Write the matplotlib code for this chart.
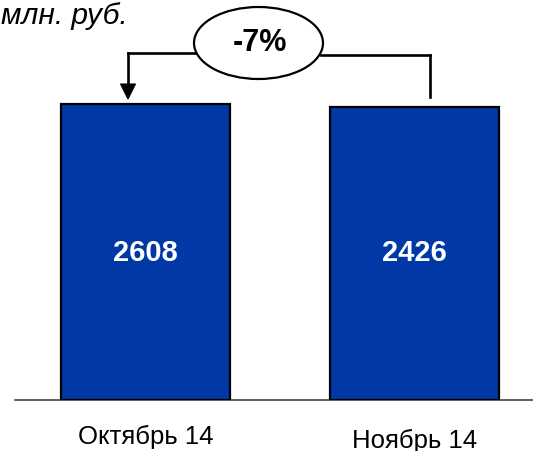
import matplotlib
matplotlib.use("Agg")
import matplotlib.pyplot as plt
from matplotlib.patches import Ellipse, Polygon

plt.rcParams['font.family'] = ['Liberation Sans', 'DejaVu Sans']

categories = ["Октябрь 14", "Ноябрь 14"]
values = [2608, 2426]
value_labels = ["2608", "2426"]
change_label = "-7%"
unit_label = "млн. руб."
AXIS_MIN = -15300  # bars start from a non-zero axis minimum (as in the reference)

W, H = 533, 452
fig = plt.figure(figsize=(W / 100, H / 100), dpi=100)

# main axes: bottom edge at the baseline (y=401 px)
base_px = 401
ax = fig.add_axes([0, (H - base_px) / H, 1, base_px / H])
ax.axis('off')
px_per_unit_x = 269.0
c0 = 145.5
ax.set_xlim(-c0 / px_per_unit_x, (W - c0) / px_per_unit_x)
top1_px = 105
ymax = AXIS_MIN + (values[0] - AXIS_MIN) * base_px / (base_px - top1_px)
ax.set_ylim(AXIS_MIN, ymax)

xs = list(range(len(values)))
heights = [v - AXIS_MIN for v in values]
ax.bar(xs, heights, bottom=AXIS_MIN, width=0.625, color='#0039A6',
       edgecolor='black', linewidth=1.6, zorder=3)
ax.axhline(AXIS_MIN, xmin=15 / W, xmax=1, color='#444444', linewidth=1.2, zorder=2, clip_on=False)

label_y = AXIS_MIN + (ymax - AXIS_MIN) * (base_px - 253) / base_px
for x, lab in zip(xs, value_labels):
    ax.text(x, label_y, lab, ha='center', va='center', color='white',
            fontsize=21, fontweight='bold', zorder=4)

offsets = [35.5, 39.5]
for x, lab, off in zip(xs, categories, offsets):
    ax.annotate(lab, xy=(x, AXIS_MIN), xytext=(0, -off * 0.72), textcoords='offset points',
                ha='center', va='center', fontsize=18.5, color='black', annotation_clip=False)

# overlay axes in pixel coordinates for annotations
ov = fig.add_axes([0, 0, 1, 1])
ov.set_xlim(0, W)
ov.set_ylim(H, 0)
ov.axis('off')
ov.patch.set_alpha(0)

ov.text(1, 16, unit_label, fontsize=21.5, style='italic', ha='left', va='center')

ecx, ecy = 258.5, 44
ov.add_patch(Ellipse((ecx, ecy), 129, 72, facecolor='white', edgecolor='black', linewidth=1.6, zorder=5))
ov.text(ecx + 1, ecy - 1, change_label, fontsize=22, fontweight='bold', ha='center', va='center', zorder=6)

lw = 1.9
# left connector with arrow
ov.plot([196, 128], [54, 54], color='black', linewidth=lw, zorder=4, solid_capstyle='projecting')
ov.plot([128, 128], [54, 86], color='black', linewidth=lw, zorder=4)
ov.add_patch(Polygon([(120.5, 85), (135.5, 85), (128, 100)], closed=True,
                     facecolor='black', edgecolor='black', linewidth=0.8, zorder=4))
# right connector
ov.plot([321, 430], [55.5, 55.5], color='black', linewidth=lw, zorder=4, solid_capstyle='projecting')
ov.plot([430, 430], [55.5, 98], color='black', linewidth=lw, zorder=4)

fig.savefig("out.png", dpi=100)
